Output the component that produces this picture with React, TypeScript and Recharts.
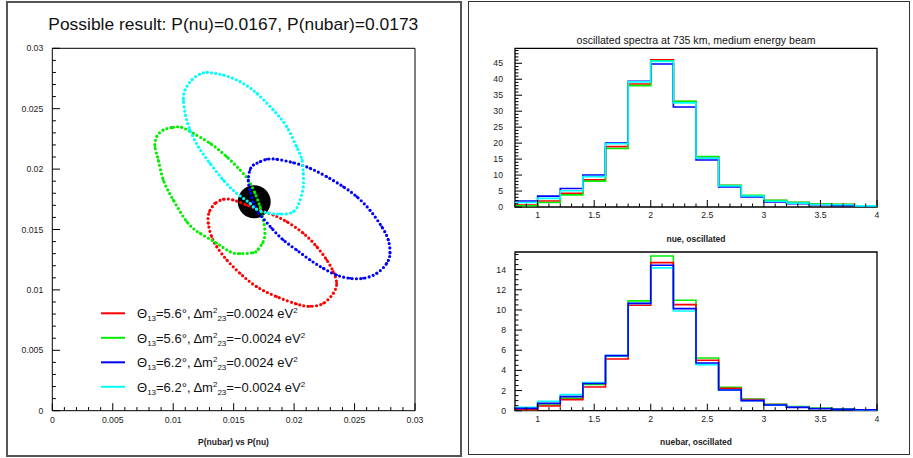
import React from "react";
import { ScatterChart, Scatter, XAxis, YAxis, ReferenceArea, LineChart, Line } from "recharts";

const FONT = "'Liberation Sans', Arial, sans-serif";
const RED = "#ff0000";
const GREEN = "#00ee00";
const BLUE = "#0000ff";
const CYAN = "#00ffff";

// measured point
const measured = [{ x: 0.0167, y: 0.0173 }];

// ellipse contours, [P(nu), P(nubar)]
const redLoop: [number, number][] = [
  [0.01346, 0.01717], [0.01299, 0.01647], [0.0129, 0.01551], [0.01318, 0.0144], [0.0136, 0.01358],
  [0.01443, 0.01248], [0.01553, 0.01137], [0.01691, 0.01026], [0.01856, 0.00944], [0.02021, 0.00883],
  [0.02132, 0.00864], [0.02242, 0.00889], [0.02324, 0.00972], [0.02352, 0.01055], [0.02324, 0.01151],
  [0.0227, 0.01248], [0.02187, 0.01358], [0.02076, 0.01469], [0.01939, 0.01565], [0.01828, 0.0162],
  [0.01718, 0.01661], [0.01608, 0.01703], [0.01497, 0.01744], [0.01414, 0.0175],
];
const greenLoop: [number, number][] = [
  [0.01001, 0.02346], [0.0107, 0.02346], [0.01166, 0.02296], [0.01304, 0.02214], [0.01442, 0.02103],
  [0.01553, 0.01993], [0.01621, 0.0191], [0.01677, 0.018], [0.01718, 0.01689], [0.01745, 0.01579],
  [0.01759, 0.01469], [0.01739, 0.01388], [0.01701, 0.01334], [0.01663, 0.01308], [0.01553, 0.013],
  [0.0147, 0.01316], [0.0136, 0.01386], [0.01222, 0.01469], [0.01112, 0.01565], [0.01001, 0.01744],
  [0.00918, 0.0191], [0.00877, 0.02075], [0.00849, 0.02185], [0.00864, 0.02268], [0.00918, 0.02324],
];
const blueLoop: [number, number][] = [
  [0.01663, 0.02034], [0.01635, 0.01993], [0.01621, 0.0191], [0.01635, 0.01827], [0.01676, 0.01689],
  [0.01732, 0.01606], [0.01815, 0.0151], [0.01911, 0.01413], [0.02021, 0.0133], [0.02132, 0.01248],
  [0.02241, 0.01179], [0.02352, 0.01123], [0.02462, 0.01096], [0.02572, 0.01096], [0.02683, 0.01137],
  [0.02766, 0.0122], [0.02793, 0.01303], [0.02779, 0.01413], [0.02725, 0.01523], [0.02628, 0.01659],
  [0.02518, 0.01772], [0.02407, 0.01854], [0.0227, 0.01937], [0.02132, 0.02007], [0.01993, 0.02053],
  [0.01856, 0.02081], [0.01773, 0.02081], [0.01718, 0.02061],
];
const cyanLoop: [number, number][] = [
  [0.01282, 0.02801], [0.01414, 0.02779], [0.01553, 0.02724], [0.01691, 0.02627], [0.01828, 0.02489],
  [0.01939, 0.02351], [0.02021, 0.02185], [0.02065, 0.02075], [0.02076, 0.01965], [0.02076, 0.01854],
  [0.02049, 0.01744], [0.01993, 0.01647], [0.01883, 0.01628], [0.01784, 0.01637], [0.01685, 0.0167],
  [0.01635, 0.01717], [0.01525, 0.018], [0.01414, 0.0191], [0.01304, 0.02048], [0.01208, 0.02185],
  [0.01139, 0.02324], [0.01102, 0.02448], [0.01085, 0.02572], [0.01098, 0.02655], [0.01153, 0.02738],
  [0.01222, 0.02787],
];

const legendLabels = [
  { color: RED, theta: "5.6", dm: "0.0024" },
  { color: GREEN, theta: "5.6", dm: "\u22120.0024" },
  { color: BLUE, theta: "6.2", dm: "0.0024" },
  { color: CYAN, theta: "6.2", dm: "\u22120.0024" },
];

// histogram bins (low edges), last bin ends at 4
const binLow = [0.8, 1.0, 1.2, 1.4, 1.6, 1.8, 2.0, 2.2, 2.4, 2.6, 2.8, 3.0, 3.2, 3.4, 3.6, 3.8];
const binEnd = 4.0;

const nueRed = [0.6, 1.9, 4.3, 8.5, 18.9, 38.5, 46.1, 33.0, 15.7, 6.7, 3.5, 2.0, 1.4, 0.9, 0.8, 0.4];
const nueGreen = [0.4, 1.4, 3.8, 8.1, 18.3, 38.0, 45.8, 33.1, 15.8, 6.8, 3.7, 2.1, 1.5, 0.95, 0.85, 0.4];
const nueBlue = [1.9, 3.4, 5.8, 10.0, 20.0, 39.4, 44.8, 31.3, 14.7, 6.3, 3.15, 1.6, 1.05, 0.7, 0.5, 0.3];
const nueCyan = [1.4, 2.7, 5.1, 9.5, 19.8, 39.2, 45.6, 32.6, 15.3, 6.6, 3.45, 1.8, 1.2, 0.8, 0.7, 0.35];

const barRed = [0.1, 0.47, 1.1, 2.35, 5.13, 10.47, 14.7, 10.53, 5.0, 2.22, 1.1, 0.6, 0.38, 0.25, 0.15, 0.08];
const barGreen = [0.1, 0.57, 1.23, 2.6, 5.4, 10.9, 15.35, 10.96, 5.23, 2.32, 1.16, 0.63, 0.4, 0.28, 0.2, 0.08];
const barBlue = [0.23, 0.73, 1.4, 2.7, 5.47, 10.65, 14.44, 10.13, 4.74, 2.05, 1.0, 0.57, 0.33, 0.2, 0.13, 0.1];
const barCyan = [0.33, 0.93, 1.6, 2.8, 5.47, 10.65, 14.17, 9.9, 4.57, 2.05, 1.0, 0.55, 0.35, 0.23, 0.13, 0.07];

const steps = (from: number, to: number, step: number) => {
  const out: number[] = [];
  const n = Math.round((to - from) / step);
  for (let i = 0; i <= n; i++) out.push(Math.round((from + i * step) * 1e6) / 1e6);
  return out;
};

const toPts = (loop: [number, number][]) => [...loop, loop[0]].map(([x, y]) => ({ x, y }));

const histRows = (r: number[], g: number[], b: number[], c: number[]) => {
  const rows = binLow.map((e, i) => ({ e, red: r[i], green: g[i], blue: b[i], cyan: c[i] }));
  const n = binLow.length - 1;
  rows.push({ e: binEnd, red: r[n], green: g[n], blue: b[n], cyan: c[n] });
  return rows;
};

const isMultiple = (v: number, step: number) => Math.abs(v / step - Math.round(v / step)) < 1e-6;
const fmt = (v: number) => String(Number(v.toFixed(4)));

type TickOpts = { side: "x" | "y"; major: number; majorLen: number; minorLen: number; gap: number };

function makeTick(o: TickOpts) {
  return (p: any) => {
    const v = p.payload.value;
    const big = isMultiple(v, o.major);
    const len = big ? o.majorLen : o.minorLen;
    if (o.side === "y") {
      return (
        <g>
          <line x1={p.x} y1={p.y} x2={p.x + len} y2={p.y} stroke="#000" strokeWidth={1} />
          {big && (
            <text x={p.x - o.gap} y={p.y} dy="0.35em" textAnchor="end" fontSize={8.7} fill="#222" fontFamily={FONT}>
              {fmt(v)}
            </text>
          )}
        </g>
      );
    }
    return (
      <g>
        <line x1={p.x} y1={p.y} x2={p.x} y2={p.y - len} stroke="#000" strokeWidth={1} />
        {big && (
          <text x={p.x} y={p.y + o.gap} textAnchor="middle" fontSize={8.7} fill="#222" fontFamily={FONT}>
            {fmt(v)}
          </text>
        )}
      </g>
    );
  };
}

const dot = (color: string) => (p: any) => <circle cx={p.cx} cy={p.cy} r={1.3} fill={color} />;

function Contours() {
  const loops = [
    { data: toPts(redLoop), color: RED },
    { data: toPts(greenLoop), color: GREEN },
    { data: toPts(blueLoop), color: BLUE },
    { data: toPts(cyanLoop), color: CYAN },
  ];
  return (
    <ScatterChart width={462} height={458} margin={{ top: 48.3, right: 47, bottom: 27.3, left: 12.3 }}>
      <XAxis
        dataKey="x"
        type="number"
        domain={[0, 0.03]}
        ticks={steps(0, 0.03, 0.001)}
        interval={0}
        height={20}
        axisLine={false}
        tickLine={false}
        tickSize={0}
        tickMargin={0}
        tick={makeTick({ side: "x", major: 0.005, majorLen: 7.5, minorLen: 3.6, gap: 11.8 })}
      />
      <YAxis
        dataKey="y"
        type="number"
        domain={[0, 0.03]}
        ticks={steps(0, 0.03, 0.001)}
        interval={0}
        width={40}
        axisLine={false}
        tickLine={false}
        tickSize={0}
        tickMargin={0}
        tick={makeTick({ side: "y", major: 0.005, majorLen: 7.7, minorLen: 3.6, gap: 9 })}
      />
      <ReferenceArea x1={0} x2={0.03} y1={0} y2={0.03} fill="none" fillOpacity={0} stroke="#000" strokeWidth={1} />
      <Scatter
        data={measured}
        isAnimationActive={false}
        shape={(p: any) => <circle cx={p.cx} cy={p.cy} r={16.5} fill="#000" />}
      />
      {loops.map((l, i) => (
        <Scatter
          key={i}
          data={l.data}
          isAnimationActive={false}
          lineJointType="natural"
          line={{ stroke: l.color, strokeWidth: 3.2, strokeDasharray: "0 4.3", strokeLinecap: "round" }}
          shape={dot(l.color)}
        />
      ))}
    </ScatterChart>
  );
}

type SpecProps = {
  rows: ReturnType<typeof histRows>;
  yMax: number;
  yMajor: number;
  yMinor: number;
  order: { key: string; color: string }[];
  width: number;
  height: number;
  margin: { top: number; right: number; bottom: number; left: number };
  labelGap: number;
  yGap: number;
};

function Spectrum({ rows, yMax, yMajor, yMinor, order, width, height, margin, labelGap, yGap }: SpecProps) {
  return (
    <LineChart width={width} height={height} data={rows} margin={margin}>
      <XAxis
        dataKey="e"
        type="number"
        domain={[0.8, 4]}
        ticks={steps(0.8, 4, 0.1)}
        interval={0}
        height={20}
        axisLine={false}
        tickLine={false}
        tickSize={0}
        tickMargin={0}
        tick={makeTick({ side: "x", major: 0.5, majorLen: 7, minorLen: 3.5, gap: labelGap })}
      />
      <YAxis
        type="number"
        domain={[0, yMax]}
        ticks={steps(0, Math.floor(yMax / yMinor) * yMinor, yMinor)}
        interval={0}
        width={30}
        axisLine={false}
        tickLine={false}
        tickSize={0}
        tickMargin={0}
        tick={makeTick({ side: "y", major: yMajor, majorLen: 7, minorLen: 3.5, gap: yGap })}
      />
      <ReferenceArea x1={0.8} x2={4} y1={0} y2={yMax} fill="none" fillOpacity={0} stroke="#000" strokeWidth={1.3} />
      {order.map((s) => (
        <Line
          key={s.key}
          type="stepAfter"
          dataKey={s.key}
          stroke={s.color}
          strokeWidth={1.6}
          dot={false}
          isAnimationActive={false}
        />
      ))}
    </LineChart>
  );
}

export default function App() {
  const nueRows = histRows(nueRed, nueGreen, nueBlue, nueCyan);
  const barRows = histRows(barRed, barGreen, barBlue, barCyan);
  return (
    <div
      style={{
        position: "absolute",
        left: 0,
        top: 0,
        width: 913,
        height: 458,
        background: "#fff",
        overflow: "hidden",
        fontFamily: FONT,
      }}
    >
      <div style={{ position: "absolute", left: 6, top: 1, width: 452, height: 452, border: "2px solid #555" }} />
      <div style={{ position: "absolute", left: 468, top: 1, width: 440, height: 452, border: "1.5px solid #333" }} />

      <div style={{ position: "absolute", left: 0, top: 0 }}>
        <Contours />
      </div>
      <div style={{ position: "absolute", left: 462, top: 0 }}>
        <Spectrum
          rows={nueRows}
          yMax={49.7}
          yMajor={5}
          yMinor={1}
          order={[
            { key: "red", color: RED },
            { key: "green", color: GREEN },
            { key: "blue", color: BLUE },
            { key: "cyan", color: CYAN },
          ]}
          width={451}
          height={230}
          margin={{ top: 48.3, right: 36, bottom: 3, left: 23 }}
          labelGap={10.5}
          yGap={12}
        />
      </div>
      <div style={{ position: "absolute", left: 462, top: 230 }}>
        <Spectrum
          rows={barRows}
          yMax={15.75}
          yMajor={2}
          yMinor={0.5}
          order={[
            { key: "green", color: GREEN },
            { key: "red", color: RED },
            { key: "cyan", color: CYAN },
            { key: "blue", color: BLUE },
          ]}
          width={451}
          height={228}
          margin={{ top: 22, right: 36, bottom: 27.3, left: 23 }}
          labelGap={11.3}
          yGap={9}
        />
      </div>

      <svg width={913} height={458} style={{ position: "absolute", left: 0, top: 0, pointerEvents: "none" }}>
        <text x={233.3} y={29.5} textAnchor="middle" fontSize={17} fill="#111" textLength={370} lengthAdjust="spacingAndGlyphs">
          Possible result: P(nu)=0.0167, P(nubar)=0.0173
        </text>
        <text x={233.5} y={444.5} textAnchor="middle" fontSize={8.5} fontWeight="bold" fill="#222">
          P(nubar) vs P(nu)
        </text>
        <text x={696} y={44} textAnchor="middle" fontSize={10.5} fill="#111" textLength={239} lengthAdjust="spacingAndGlyphs">
          oscillated spectra at 735 km, medium energy beam
        </text>
        <text x={696} y={242} textAnchor="middle" fontSize={8.5} fontWeight="bold" fill="#222">
          nue, oscillated
        </text>
        <text x={696} y={445} textAnchor="middle" fontSize={8.5} fontWeight="bold" fill="#222">
          nuebar, oscillated
        </text>
        {legendLabels.map((l, i) => {
          const ly = 313.3 + i * 24.5;
          return (
            <g key={i}>
              <line x1={101} x2={125} y1={ly} y2={ly} stroke={l.color} strokeWidth={2} />
              <text x={137} y={ly + 4.7} fontSize={13} fill="#111">
                {"\u0398"}
                <tspan fontSize={8} dy={3}>13</tspan>
                <tspan dy={-3}>{`=${l.theta}\u00b0, \u0394m`}</tspan>
                <tspan fontSize={8} dy={-5}>2</tspan>
                <tspan fontSize={8} dy={8}>23</tspan>
                <tspan dy={-3}>{`=${l.dm} eV`}</tspan>
                <tspan fontSize={8} dy={-5}>2</tspan>
              </text>
            </g>
          );
        })}
      </svg>
    </div>
  );
}
